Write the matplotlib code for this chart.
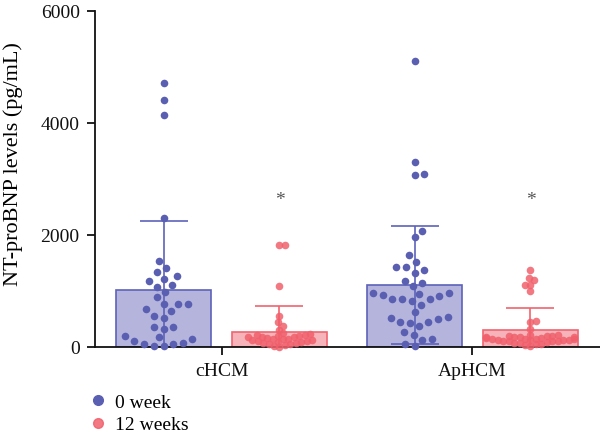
import numpy as np
import matplotlib
matplotlib.use("Agg")
import matplotlib.pyplot as plt
from matplotlib.lines import Line2D

plt.rcParams['font.family'] = ['Liberation Serif', 'DejaVu Serif']

# ---------------- data ----------------
groups = ["cHCM", "ApHCM"]
series = ["0 week", "12 weeks"]

chcm_0wk = [4720, 4410, 4150, 2300, 1530, 1410, 1340, 1270, 1210, 1180, 1110,
            1080, 980, 890, 760, 760, 760, 670, 640, 550, 520, 360, 360, 330,
            190, 170, 140, 100, 70, 60, 50, 20, 10]
chcm_12wk = [1830, 1830, 1090, 550, 440, 380, 310,
             250, 230, 220, 210, 200, 190, 180, 175, 170, 160, 150, 145, 140,
             130, 120, 110, 100, 95, 90, 80, 70, 60, 50, 40, 20, 0]
aphcm_0wk = [5110, 3310, 3095, 3070, 2080, 1960, 1640, 1510, 1435, 1435, 1380,
             1330, 1185, 1145, 1090, 970, 970, 945, 925, 915, 855, 855, 855,
             815, 755, 625, 530, 525, 495, 445, 445, 425, 370, 270, 220, 145,
             130, 50, 20]
aphcm_12wk = [1380, 1230, 1190, 1110, 1110, 1000, 470, 450, 330,
              220, 210, 200, 200, 190, 180, 180, 170, 170, 160, 160, 150, 150,
              140, 140, 130, 130, 120, 120, 110, 110, 100, 100, 90, 80, 70, 60,
              50, 40, 20]

mean_0wk = [1020, 1110]
mean_12wk = [270, 300]
sd_0wk = [1230, 1050]
sd_12wk = [460, 400]

significance = ["*", "*"]
star_level = 2640

yticks = [0, 2000, 4000, 6000]
ylabel = "NT-proBNP levels (pg/mL)"

# ---------------- style ----------------
blue_dot = "#5a5fb2"
blue_fill = "#b4b4dd"
blue_edge = "#5c62ba"
red_dot = "#f0606c"
red_fill = "#f6b3b9"
red_edge = "#f06470"

W, H, DPI = 600, 439, 100
fig = plt.figure(figsize=(W / DPI, H / DPI), dpi=DPI)
ax_left, ax_right, ax_top, ax_bot = 95, 600, 12, 348
ax = fig.add_axes([ax_left / W, 1 - ax_bot / H, (ax_right - ax_left) / W,
                   (ax_bot - ax_top) / H])

x = np.arange(len(groups))
bw = 0.378
off = 0.231
ax.set_xlim(-0.504, 1.508)
ax.set_ylim(0, 6000)

# bars
ax.bar(x - off, mean_0wk, width=bw, color=blue_fill, edgecolor=blue_edge,
       linewidth=1.2, zorder=1)
ax.bar(x + off, mean_12wk, width=bw, color=red_fill, edgecolor=red_edge,
       linewidth=1.2, zorder=1)

# error bars
cap = 17
ax.errorbar(x - off, mean_0wk, yerr=sd_0wk, fmt="none", ecolor=blue_edge,
            elinewidth=1.2, capsize=cap, capthick=1.2, zorder=2)
ax.errorbar(x + off, mean_12wk, yerr=sd_12wk, fmt="none", ecolor=red_edge,
            elinewidth=1.2, capsize=cap, capthick=1.2, zorder=2)


def swarm(ax, values, center, d_px, max_half=None):
    trans = ax.transData
    vals = np.asarray(values, dtype=float)
    pts = trans.transform(np.column_stack([np.full(len(vals), center), vals]))
    ys = pts[:, 1]
    x0 = pts[0, 0]
    order = np.argsort(ys, kind="stable")
    px_list, py_list = [], []
    out = np.zeros(len(vals))
    for k, i in enumerate(order):
        y = ys[i]
        intervals = []
        cands = [0.0]
        for px, py in zip(px_list, py_list):
            dy = abs(py - y)
            if dy < d_px:
                dx = np.sqrt(d_px ** 2 - dy ** 2)
                intervals.append((px - dx, px + dx))
                cands += [px - dx, px + dx]
        sign = 1 if k % 2 else -1
        cands = sorted(cands, key=lambda c: (round(abs(c), 6), sign * c))
        chosen = 0.0
        for c in cands:
            if all(not (lo + 1e-6 < c < hi - 1e-6) for lo, hi in intervals):
                chosen = c
                break
        if max_half is not None:
            chosen = float(np.clip(chosen, -max_half, max_half))
        px_list.append(chosen)
        py_list.append(y)
        out[i] = chosen
    inv = trans.inverted()
    return inv.transform(np.column_stack([x0 + out, ys]))[:, 0]


msize = 30
for gi, (v0, v12) in enumerate([(chcm_0wk, chcm_12wk), (aphcm_0wk, aphcm_12wk)]):
    xs0 = swarm(ax, v0, gi - off, 10.0, 44)
    ax.scatter(xs0, v0, s=msize, color=blue_dot, linewidths=0, zorder=3,
               clip_on=False)
    xs12 = swarm(ax, v12, gi + off, 5.6, 44)
    ax.scatter(xs12, v12, s=msize, color=red_dot, alpha=0.85, linewidths=0,
               zorder=3, clip_on=False)
    ax.text(gi + off, star_level, significance[gi], ha="center", va="center",
            fontsize=14, color="#555555")

# axes styling
for s in ["top", "right"]:
    ax.spines[s].set_visible(False)
for s in ["left", "bottom"]:
    ax.spines[s].set_linewidth(1.3)
    ax.spines[s].set_color("#111111")
ax.set_yticks(yticks)
ax.set_yticklabels([str(t) for t in yticks])
ax.set_xticks(x)
ax.set_xticklabels(groups)
ax.tick_params(axis="both", labelsize=14, width=1.3, length=6, pad=5,
               colors="#111111")
ax.set_ylabel(ylabel, fontsize=16)
ax.yaxis.set_label_coords(-0.142, 0.548)

handles = [Line2D([], [], marker="o", linestyle="none", markersize=7,
                  color=blue_dot),
           Line2D([], [], marker="o", linestyle="none", markersize=7,
                  color=red_dot, alpha=0.85)]
fig.legend(handles, series, loc="upper left",
           bbox_to_anchor=(90 / W, 1 - 394 / H), frameon=False, fontsize=14,
           handlelength=0.8, handletextpad=0.5, borderpad=0, borderaxespad=0,
           labelspacing=0.27)

fig.savefig("out.png", dpi=DPI)
